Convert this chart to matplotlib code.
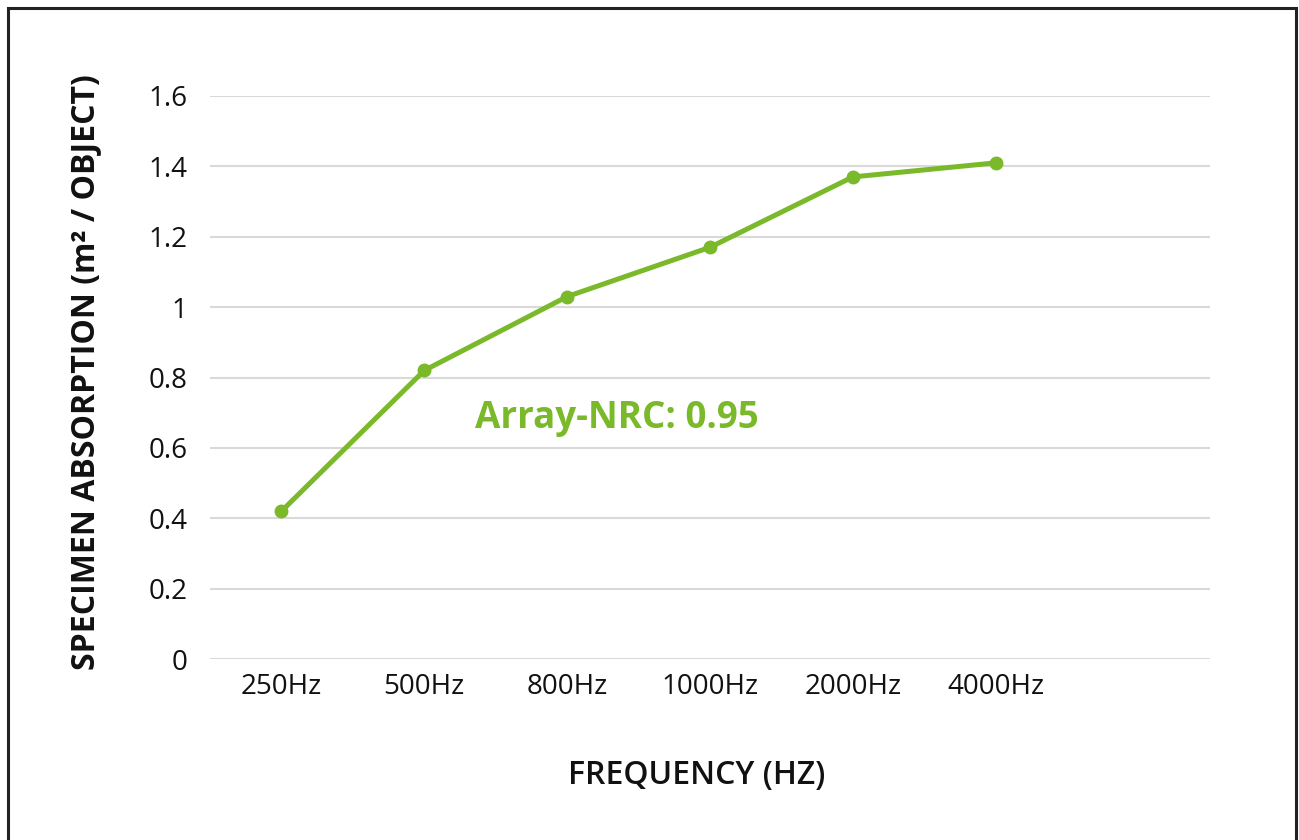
import matplotlib
matplotlib.use("Agg")
import matplotlib.pyplot as plt
from matplotlib.patches import Rectangle

plt.rcParams["font.family"] = ["Open Sans", "DejaVu Sans"]

# data
frequencies = ["250Hz", "500Hz", "800Hz", "1000Hz", "2000Hz", "4000Hz", ""]
absorption = [0.42, 0.82, 1.03, 1.17, 1.37, 1.41]
nrc_label = "Array-NRC: 0.95"

green = "#7ab929"

fig = plt.figure(figsize=(12.99, 8.4), dpi=100)
ax = fig.add_axes([210 / 1299, 181 / 840, 1000 / 1299, 563 / 840])

x = list(range(len(absorption)))
ax.plot(x, absorption, color=green, linewidth=3.6, marker="o",
        markersize=9, zorder=3)

ax.set_xlim(-0.5, len(frequencies) - 0.5)
ax.set_ylim(0, 1.6)
ax.set_xticks(range(len(frequencies)))
ax.set_xticklabels(frequencies)
ax.set_yticks([0, 0.2, 0.4, 0.6, 0.8, 1.0, 1.2, 1.4, 1.6])
ax.set_yticklabels(["0", "0.2", "0.4", "0.6", "0.8", "1", "1.2", "1.4", "1.6"])

ax.grid(axis="y", color="#d9d9d9", linewidth=1.5)
ax.set_axisbelow(True)
for s in ax.spines.values():
    s.set_visible(False)
ax.tick_params(length=0, labelsize=20, colors="#111111", pad=10)
ax.tick_params(axis="y", pad=16)

ax.text(1.357, 0.685, nrc_label, color=green, fontsize=26.5,
        fontweight="bold", ha="left", va="center")

fig.text(697 / 1299, 1 - 776 / 840, "FREQUENCY (HZ)", fontsize=23,
         fontweight="semibold", ha="center", va="center", color="#111111")
fig.text(86 / 1299, 1 - 372 / 840, "SPECIMEN ABSORPTION (m² / OBJECT)",
         fontsize=23, fontweight="bold", rotation=90, ha="center",
         va="center", color="#111111")

# outer frame
fig.patches.append(Rectangle((8 / 1299, -0.05), 1288 / 1299, 1.05 - 8 / 840,
                             transform=fig.transFigure, fill=False,
                             edgecolor="#222222", linewidth=2.2))

fig.savefig("out.png", dpi=100)
